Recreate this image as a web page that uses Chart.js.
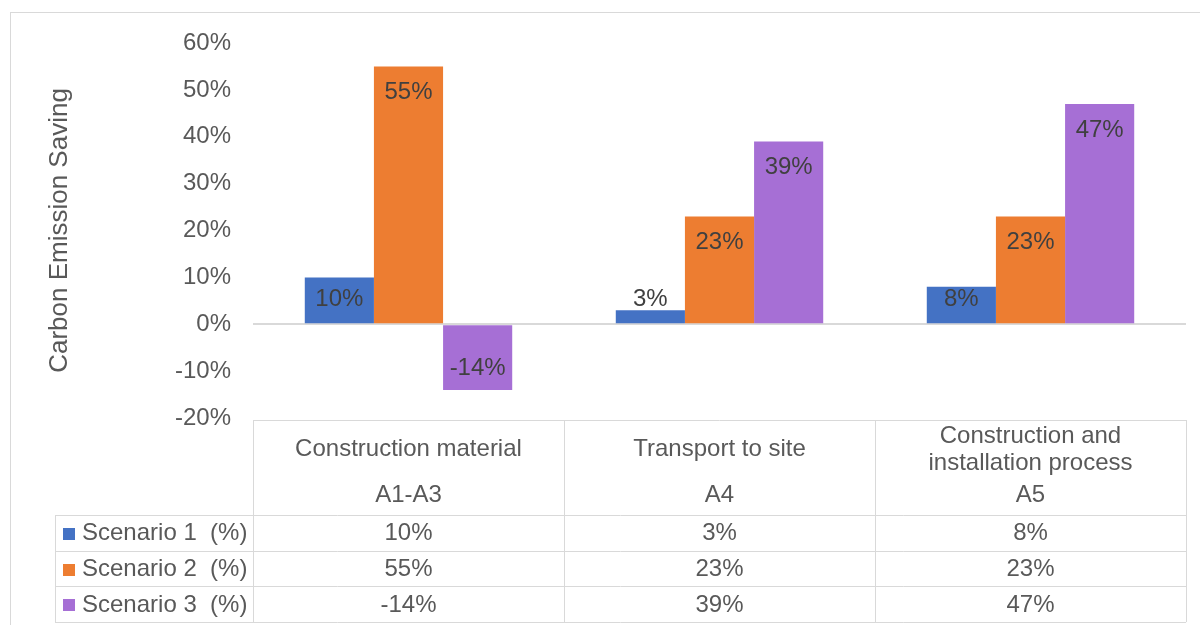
<!DOCTYPE html>
<html>
<head>
<meta charset="utf-8">
<script src="https://cdn.jsdelivr.net/npm/chart.js@4"></script>
<style>
  body { margin: 0; background: #fff; }
  #wrap { width: 1200px; height: 625px; position: relative; }
</style>
</head>
<body>
<div id="wrap"><canvas id="savingChart"></canvas></div>
<script>
const headerLines = [['Construction material'], ['Transport to site'], ['Construction and', 'installation process']];
const stageCodes = ['A1-A3', 'A4', 'A5'];
const seriesNames = ['Scenario 1  (%)', 'Scenario 2  (%)', 'Scenario 3  (%)'];
const scenario1 = [10, 3, 8];
const scenario2 = [55, 23, 23];
const scenario3 = [-14, 39, 47];
const seriesColors = ['#4472C4', '#ED7D31', '#A66FD5'];

const FONT = "'Liberation Sans', Arial, sans-serif";
const GRID = '#D9D9D9';
Chart.defaults.font.family = FONT;

// value labels on the bars + the data table under the plot
const tablePlugin = {
    id: 'tablePlugin',
    beforeDraw(chart) {
        const c = chart.ctx;
        c.save();
        c.strokeStyle = GRID;
        c.lineWidth = 1;
        c.strokeRect(10.5, 12.5, 1250, 700);
        c.restore();
    },
    afterDatasetsDraw(chart) {
        const c = chart.ctx;
        c.save();
        c.font = '24px ' + FONT;
        c.fillStyle = '#404040';
        c.textAlign = 'center';
        c.textBaseline = 'middle';
        chart.data.datasets.forEach((ds, di) => {
            chart.getDatasetMeta(di).data.forEach((bar, i) => {
                const v = ds.data[i];
                // inside end, but never closer than 24px to the zero line
                const y = v >= 0
                    ? Math.min(bar.y + 26, bar.base - 24)
                    : Math.max(bar.y - 22, bar.base + 24);
                c.fillText(v + '%', bar.x, y);
            });
        });
        c.restore();
    },
    afterDraw(chart) {
        const c = chart.ctx;
        const x = chart.scales.x;
        const area = chart.chartArea;
        const colW = (area.right - area.left) / stageCodes.length;
        const top = area.bottom + 2;
        const headBottom = 515;
        const rowH = 35.7;
        const legendLeft = 55;
        const bottom = headBottom + rowH * seriesNames.length;

        c.save();
        c.strokeStyle = GRID;
        c.lineWidth = 1;
        c.beginPath();
        // header top
        c.moveTo(area.left, Math.round(top) + 0.5);
        c.lineTo(area.right, Math.round(top) + 0.5);
        // row lines
        for (let r = 0; r <= seriesNames.length; r++) {
            const y = Math.round(headBottom + r * rowH) + 0.5;
            c.moveTo(legendLeft, y);
            c.lineTo(area.right, y);
        }
        // column lines
        for (let k = 0; k <= stageCodes.length; k++) {
            const lx = Math.round(area.left + k * colW) + 0.5;
            c.moveTo(lx, top);
            c.lineTo(lx, bottom);
        }
        c.moveTo(legendLeft + 0.5, headBottom);
        c.lineTo(legendLeft + 0.5, bottom);
        c.stroke();

        c.font = '24px ' + FONT;
        c.fillStyle = '#595959';
        c.textAlign = 'center';
        c.textBaseline = 'middle';
        const series = [scenario1, scenario2, scenario3];
        stageCodes.forEach((code, i) => {
            const cx = x.getPixelForValue(i);
            const lines = headerLines[i];
            if (lines.length === 1) {
                c.fillText(lines[0], cx, 449);
            } else {
                c.fillText(lines[0], cx, 436);
                c.fillText(lines[1], cx, 463);
            }
            c.fillText(code, cx, 495);
            series.forEach((vals, r) => {
                c.fillText(vals[i] + '%', cx, headBottom + rowH * (r + 0.5) + 1);
            });
        });

        c.textAlign = 'left';
        seriesNames.forEach((name, r) => {
            const cy = headBottom + rowH * (r + 0.5) + 1;
            c.fillStyle = seriesColors[r];
            c.fillRect(63, Math.round(cy - 6), 12, 12);
            c.fillStyle = '#595959';
            c.fillText(name, 82, cy);
        });
        c.restore();
    }
};

const chart = new Chart(document.getElementById('savingChart'), {
    type: 'bar',
    data: {
        labels: headerLines.map(l => l.join(' ')),
        datasets: [
            { label: seriesNames[0], data: scenario1, backgroundColor: seriesColors[0] },
            { label: seriesNames[1], data: scenario2, backgroundColor: seriesColors[1] },
            { label: seriesNames[2], data: scenario3, backgroundColor: seriesColors[2] }
        ]
    },
    options: {
        responsive: true,
        maintainAspectRatio: false,
        animation: false,
        datasets: {
            bar: { categoryPercentage: 0.667, barPercentage: 1.0 }
        },
        layout: {
            padding: { top: 43, right: 14, bottom: 207, left: 0 }
        },
        plugins: {
            legend: { display: false },
            tooltip: { enabled: false }
        },
        scales: {
            x: {
                display: false
            },
            y: {
                min: -20,
                max: 60,
                border: { display: false },
                grid: {
                    drawTicks: false,
                    color: ctx => ctx.tick && ctx.tick.value === 0 ? GRID : 'rgba(0,0,0,0)',
                    lineWidth: 2
                },
                ticks: {
                    stepSize: 10,
                    padding: 22,
                    color: '#595959',
                    font: { size: 24 },
                    callback: v => v + '%'
                },
                title: {
                    display: true,
                    text: 'Carbon Emission Saving',
                    color: '#595959',
                    font: { size: 26 },
                    padding: { top: 44, bottom: 0 }
                },
                afterFit(scale) {
                    scale.width = 253;
                }
            }
        }
    },
    plugins: [tablePlugin]
});
</script>
</body>
</html>
